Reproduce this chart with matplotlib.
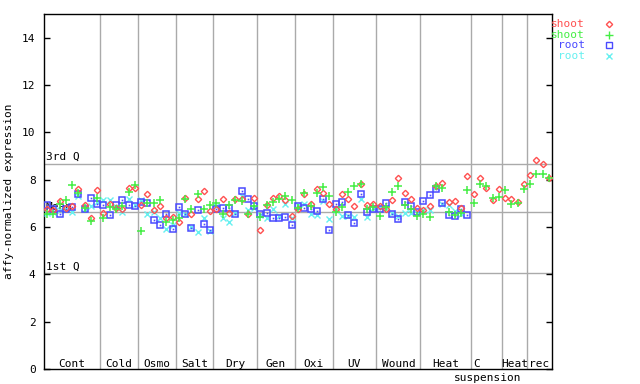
import numpy as np
import matplotlib
matplotlib.use('Agg')
import matplotlib.pyplot as plt
from matplotlib.lines import Line2D

nan = np.nan
groups = ['Cont', 'Cold', 'Osmo', 'Salt', 'Dry', 'Gen', 'Oxi', 'UV', 'Wound', 'Heat', 'C', 'Heat', 'rec']
group_sizes = [9, 6, 6, 6, 7, 6, 6, 7, 7, 8, 5, 4, 4]

shoot_a = [6.75, 6.70, 7.09, 6.80, 6.90, 7.60, 6.92, 6.36, 7.55,
           6.60, 6.99, 6.82, 6.78, 7.65, 7.65,
           6.92, 7.38, 6.70, 6.88, 6.39, 6.42,
           6.22, 7.23, 6.53, 7.17, 7.51, 6.67,
           6.78, 7.17, 6.60, 7.20, 7.20, 6.55, 7.23,
           5.87, 6.95, 7.23, 7.31, 7.15, 6.45,
           6.75, 7.38, 6.99, 7.62, 7.44, 6.96,
           6.78, 7.38, 7.20, 6.90, 7.81, 6.95, 6.99,
           6.90, 6.78, 7.16, 8.09, 7.44, 7.20, 6.80,
           6.70, 6.89, 7.75, 7.85, 7.04, 7.08, 6.82, 8.14,
           7.41, 8.09, 7.64, 7.16, 7.59,
           7.24, 7.20, 7.06, 7.81,
           8.19, 8.82, 8.65, 8.05]
shoot_b = [6.53, 6.53, 6.99, 7.13, 7.76, 7.45, 6.80, 6.25, 7.23,
           6.39, 6.85, 6.74, 6.90, 7.50, 7.78,
           5.85, 7.00, 7.03, 7.13, 6.22, 6.30,
           6.36, 7.20, 6.74, 7.41, 6.78, 6.95,
           7.03, 6.53, 6.95, 7.13, 7.09, 6.53, 6.90,
           6.43, 6.92, 7.06, 7.20, 7.31, 7.13,
           6.80, 7.44, 6.90, 7.44, 7.67, 7.30,
           6.65, 6.85, 7.48, 7.72, 7.81, 6.74, 6.85,
           6.46, 6.85, 7.48, 7.72, 6.95, 6.75, 6.46,
           6.55, 6.43, 7.72, 7.66, 6.62, 6.50, 6.61, 7.58,
           7.03, 7.83, 7.73, 7.21, 7.27,
           7.58, 6.99, 7.02, 7.62,
           7.83, 8.23, 8.23, 8.05]
root_a = [6.95, 6.75, 6.57, 6.75, 6.85, 7.38, 6.75, 7.24, 6.96,
          6.95, 6.50, 6.95, 7.13, 6.92, 6.87,
          7.07, 7.03, 6.29, 6.08, 6.57, 5.92,
          6.85, 6.53, 5.96, 6.71, 6.11, 5.87,
          6.78, 6.82, 6.82, 6.57, 7.51, 7.17, 6.89,
          6.53, 6.61, 6.39, 6.36, 6.43, 6.08,
          6.89, 6.82, 6.74, 6.68, 7.20, 5.87,
          6.96, 7.06, 6.50, 6.17, 7.41, 6.64, 6.74,
          6.74, 7.02, 6.57, 6.32, 7.06, 6.88, 6.64,
          7.08, 7.37, 7.60, 7.02, 6.50, 6.48, 6.74, 6.50,
          nan, nan, nan, nan, nan,
          nan, nan, nan, nan,
          nan, nan, nan, nan]
root_b = [6.60, 6.65, 6.70, 6.75, 6.64, 7.30, 6.75, 6.88, 7.06,
          7.12, 7.12, 6.85, 6.64, 7.20, 6.95,
          7.12, 6.53, 6.65, 6.40, 5.92, 6.10,
          6.60, 6.55, 6.00, 5.77, 6.39, 5.85,
          6.90, 6.40, 6.22, 6.60, 7.30, 6.70, 6.80,
          6.50, 6.36, 6.78, 6.45, 6.99, 6.39,
          6.95, 6.99, 6.54, 6.50, 7.10, 6.32,
          6.70, 6.46, 6.45, 6.43, 7.20, 6.43, 6.80,
          6.85, 6.80, 6.60, 6.45, 6.60, 6.60, 6.58,
          6.70, 6.70, 7.70, 6.98, 6.95, 6.67, 6.55, nan,
          nan, nan, nan, nan, nan,
          nan, nan, nan, nan,
          nan, nan, nan, nan]

median_val = 6.62
q1_val = 4.06
q3_val = 8.68
yticks = [0, 2, 4, 6, 8, 10, 12, 14]

RED = '#ff5050'
GREEN = '#44ee44'
BLUE = '#4a4aff'
CYAN = '#66f0f0'
GRID = '#aaaaaa'
FONT = 'DejaVu Sans Mono'

plt.rcParams['font.family'] = FONT

fig = plt.figure(figsize=(6.4, 3.84), dpi=100)
ax = fig.add_axes([44 / 640, 15 / 384, 508 / 640, 355 / 384])

n = sum(group_sizes)
x = np.arange(n)
ax.set_xlim(-0.48, n - 0.52)
ax.set_ylim(0, 15)

# horizontal reference lines
for v in (median_val, q1_val, q3_val):
    ax.axhline(v, color=GRID, lw=1, zorder=1)

# group dividers and labels
starts = np.cumsum([0] + group_sizes[:-1])
for i, (g, s, sz) in enumerate(zip(groups, starts, group_sizes)):
    if i > 0:
        ax.axvline(s - 0.5, color=GRID, lw=1, zorder=1)
    cx = s + (sz - 1) / 2
    if g == 'C':
        cx = s + 0.5
    ax.text(cx, 0.006, g, transform=ax.get_xaxis_transform(), ha='center',
            va='baseline', fontsize=8, color='black')
c_start = starts[groups.index('C')]
ax.text(c_start + 2.2, -0.034, 'suspension', transform=ax.get_xaxis_transform(),
        ha='center', va='baseline', fontsize=8, color='black', clip_on=False)

ax.text(0.003, q3_val + 0.06, '3rd Q', transform=ax.get_yaxis_transform(),
        ha='left', va='bottom', fontsize=8)
ax.text(0.003, q1_val + 0.06, '1st Q', transform=ax.get_yaxis_transform(),
        ha='left', va='bottom', fontsize=8)
ax.text(0.003, median_val + 0.02, 'Mean', transform=ax.get_yaxis_transform(),
        ha='left', va='bottom', fontsize=8)

# data
ax.plot(x, root_b, ls='none', marker='x', ms=3.8, mew=1, color=CYAN, zorder=3)
ax.plot(x, root_a, ls='none', marker='s', ms=4.4, mew=1.1, mfc='none', mec=BLUE, zorder=4)
ax.plot(x, root_a, ls='none', marker='s', ms=1.2, mew=0, color=BLUE, zorder=4)
ax.plot(x, shoot_a, ls='none', marker='D', ms=3.2, mew=1, mfc='none', mec=RED, zorder=5)
ax.plot(x, shoot_b, ls='none', marker='+', ms=5.2, mew=1.1, color=GREEN, zorder=6)

ax.set_yticks(yticks)
ax.set_yticklabels([str(t) for t in yticks], fontsize=8)
ax.set_xticks([])
ax.tick_params(axis='y', direction='in', length=4, width=1, right=True, left=True, pad=6)
for sp in ax.spines.values():
    sp.set_color('black')
    sp.set_linewidth(1)
ax.set_ylabel('affy-normalized expression', fontsize=8, labelpad=6)

# legend
leg = [('shoot', RED, 'D', 3.2, 'none'), ('shoot', GREEN, '+', 5.2, GREEN),
       ('root', BLUE, 's', 4.4, 'none'), ('root', CYAN, 'x', 3.8, CYAN)]
for i, (lab, col, mk, ms, mfc) in enumerate(leg):
    ypx = 24 + i * 10.7
    yf = 1 - ypx / 384
    fig.text(585 / 640, yf, lab, color=col, fontsize=8, ha='right', va='center')
    fig.add_artist(Line2D([609 / 640], [yf], transform=fig.transFigure, marker=mk,
                          ms=ms, mew=1, mfc=mfc, mec=col, color=col, ls='none'))

fig.savefig('out.png', dpi=100)
